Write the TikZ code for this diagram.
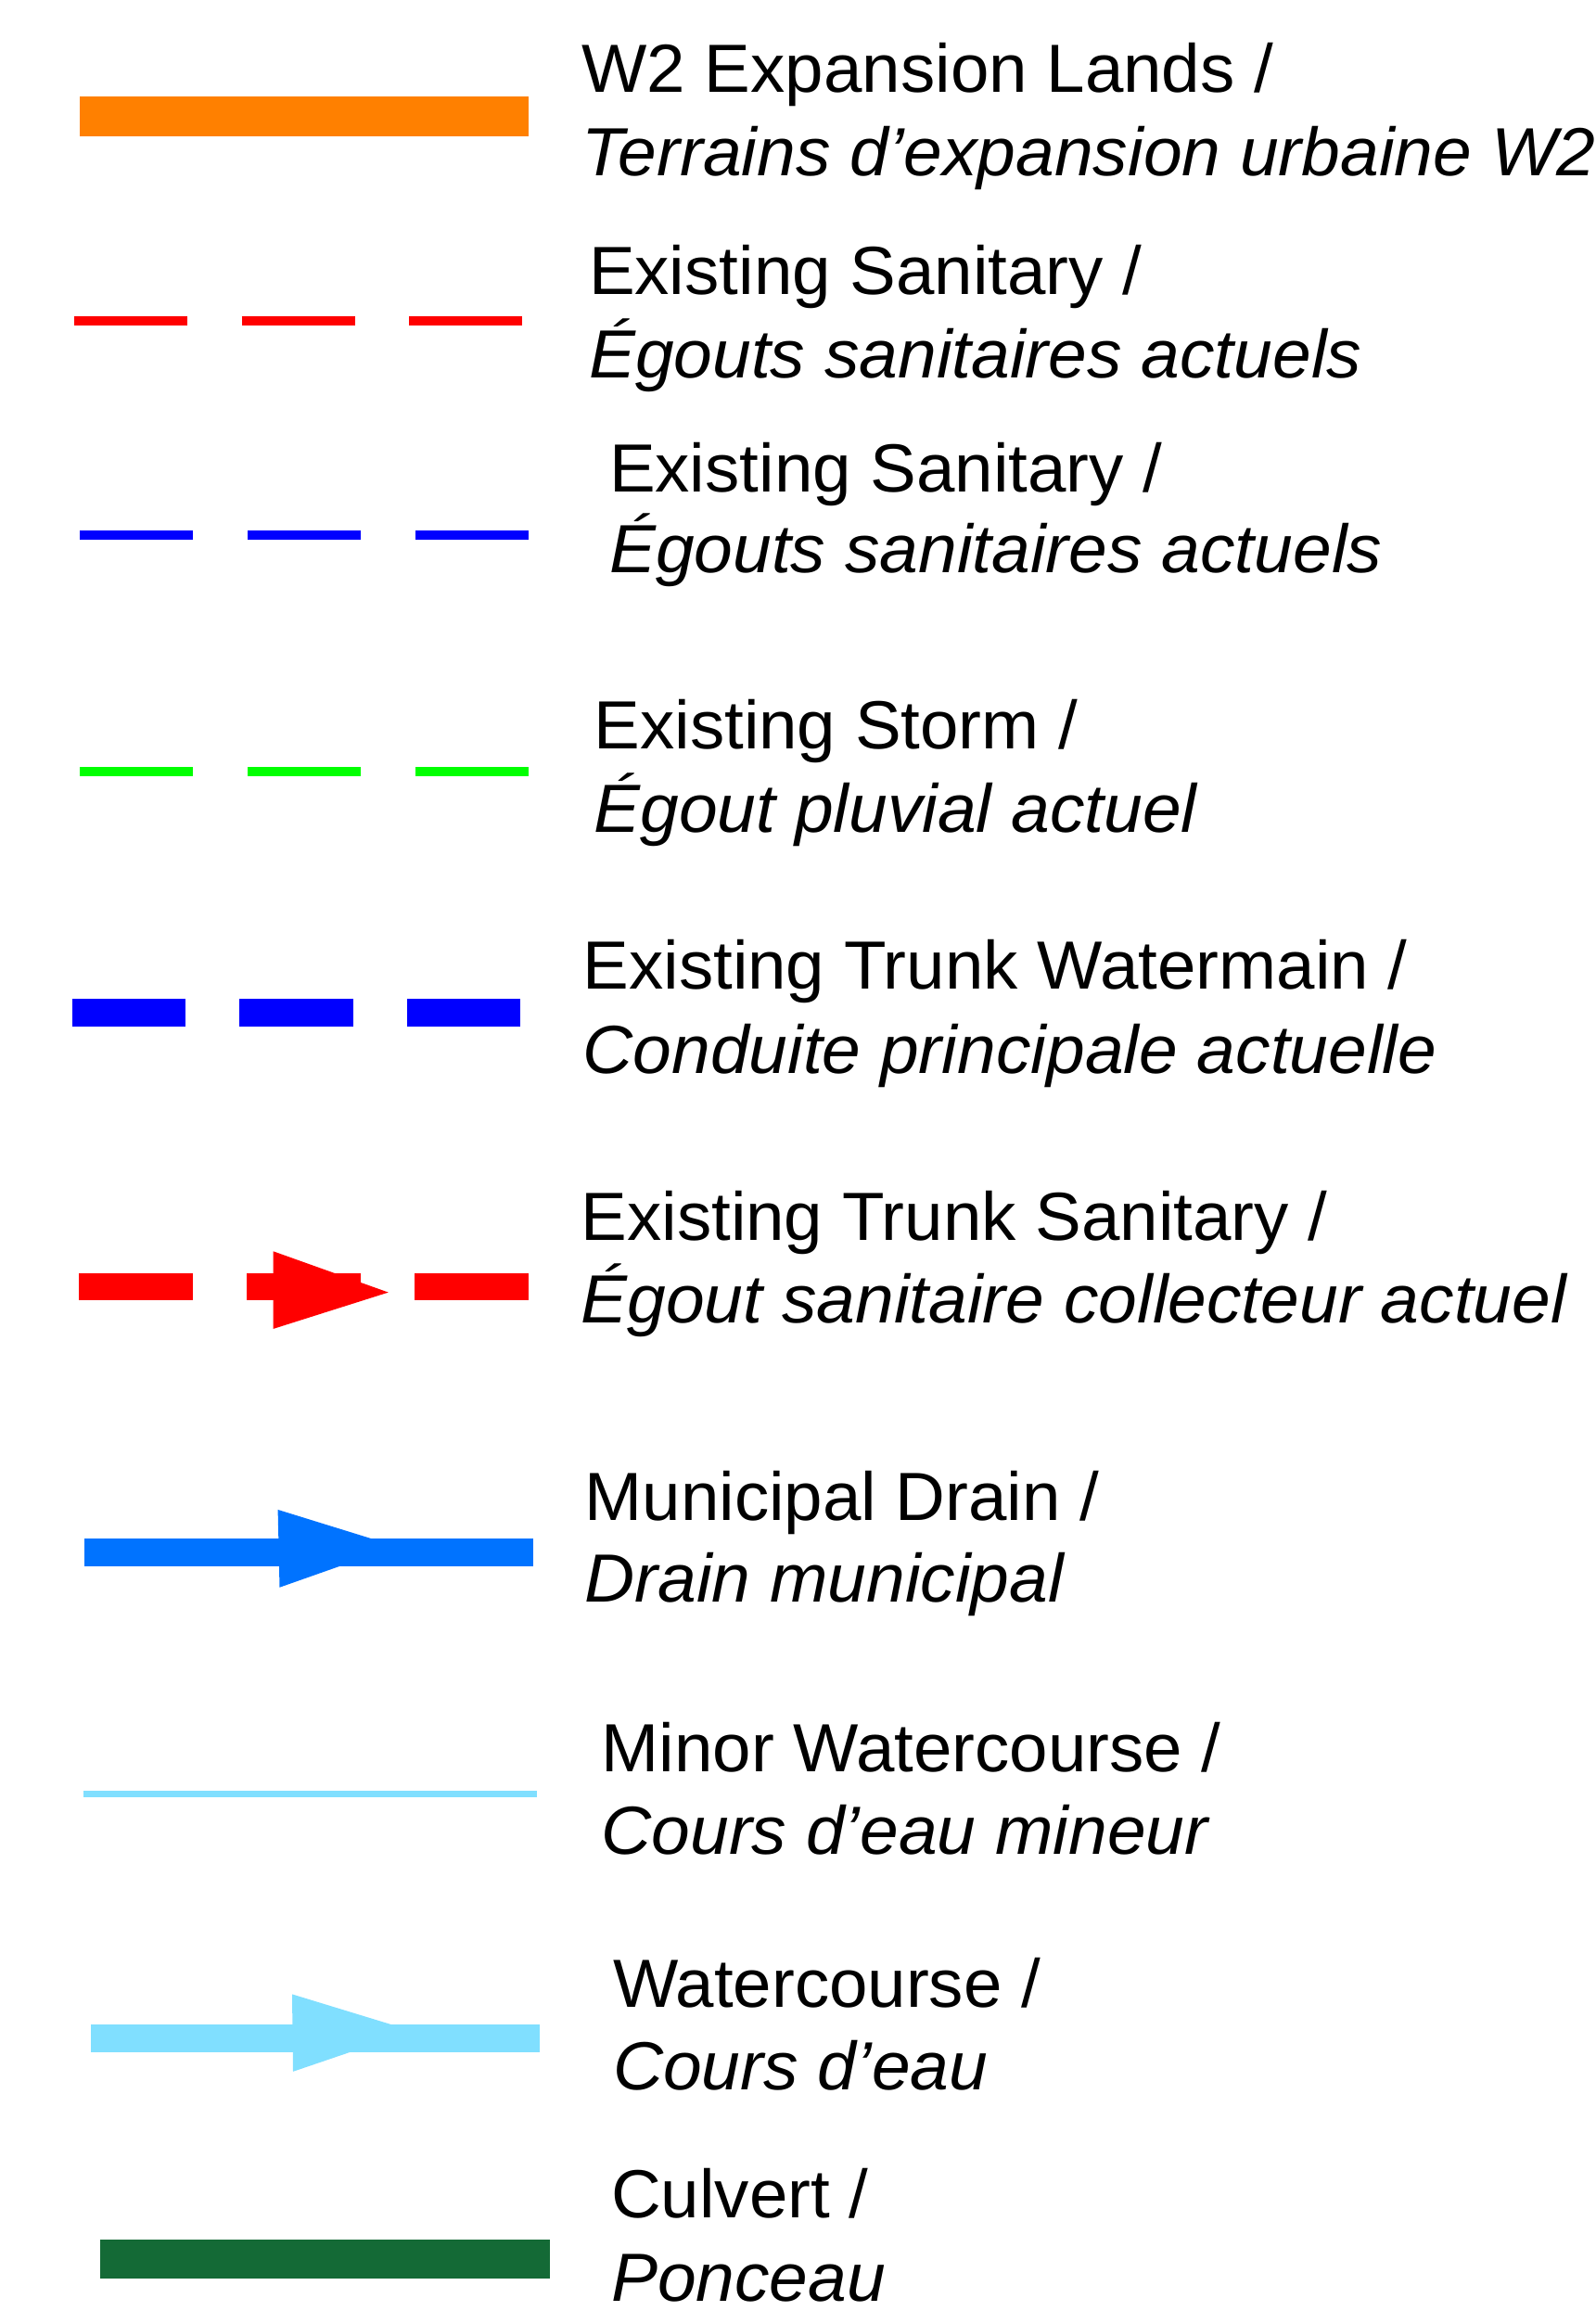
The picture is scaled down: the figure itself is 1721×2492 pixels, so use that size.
\documentclass[tikz,border=0pt]{standalone}
\usepackage{fontspec}
\setmainfont{Liberation Sans}[FakeStretch=1.014, ItalicFeatures={FakeStretch=1.02}]

\definecolor{expansionorange}{HTML}{FF8000}
\definecolor{sanitaryred}{HTML}{FF0000}
\definecolor{sanitaryblue}{HTML}{0000FF}
\definecolor{stormgreen}{HTML}{00FF00}
\definecolor{drainblue}{HTML}{0073FF}
\definecolor{waterblue}{HTML}{80DFFF}
\definecolor{culvertgreen}{HTML}{146A36}

\begin{document}
\begin{tikzpicture}[x=1pt, y=-1pt,
  legendtext/.style={anchor=base west, inner sep=0pt, outer sep=0pt,
    font=\fontsize{73.5}{90}\selectfont},
  legendtextit/.style={legendtext, font=\fontsize{73.5}{90}\selectfont\itshape},
  thindash/.style={line width=10pt, dash pattern=on 122pt off 58.7pt},
  trunkdash/.style={dash pattern=on 122.5pt off 58.3pt},
]
\useasboundingbox (0,0) rectangle (1721,2492);
\fill[white] (0,0) rectangle (1721,2492);

% --- line samples -------------------------------------------------------
% W2 expansion lands
\fill[expansionorange] (86,104) rectangle (570,147);

% existing sanitary (red, thin dashes)
\draw[sanitaryred, thindash] (80,345.7) -- (564.5,345.7);

% existing sanitary (blue, thin dashes)
\draw[sanitaryblue, thindash] (86.4,576.5) -- (569.8,576.5);

% existing storm (green, thin dashes)
\draw[stormgreen, thindash] (86.4,832) -- (569.8,832);

% existing trunk watermain (blue, heavy dashes)
\draw[sanitaryblue, line width=30pt, trunkdash] (77.6,1092) -- (560.8,1092);

% existing trunk sanitary (red, heavy dashes with flow arrow)
\draw[sanitaryred, line width=29pt, dash pattern=on 123pt off 58pt] (85.3,1387.5) -- (571,1387.5);
\fill[sanitaryred] (294.7,1349.3) -- (418.8,1393.6) -- (294.7,1432.9) -- cycle;

% municipal drain
\fill[drainblue] (91,1659.4) rectangle (575,1688.9);
\fill[drainblue] (299.6,1627.9) -- (427.2,1667.4) -- (301.5,1711.7) -- cycle;

% minor watercourse
\fill[waterblue] (90,1931) rectangle (579,1937.6);

% watercourse
\fill[waterblue] (98,2183.4) rectangle (582,2213);
\fill[waterblue] (315,2150.4) -- (444.6,2190) -- (316,2233.8) -- cycle;

% culvert
\fill[culvertgreen] (108,2414.6) rectangle (593,2456.7);

% --- labels -------------------------------------------------------------
\node[legendtext]   (t1a)  at (627.5,99.3)   {W2 Expansion Lands /};
\node[legendtextit] (t1b)  at (627.5,189.3)  {Terrains d’expansion urbaine W2};

\node[legendtext]   (t2a)  at (635,317.7)    {Existing Sanitary /};
\node[legendtextit] (t2b)  at (635,407.3)    {Égouts sanitaires actuels};

\node[legendtext]   (t3a)  at (657,530.7)    {Existing Sanitary /};
\node[legendtextit] (t3b)  at (657,617.5)    {Égouts sanitaires actuels};

\node[legendtext]   (t4a)  at (640.5,807.7)  {Existing Storm /};
\node[legendtextit] (t4b)  at (640.5,897.7)  {Égout pluvial actuel};

\node[legendtext]   (t5a)  at (628.5,1066.7) {Existing Trunk Watermain /};
\node[legendtextit] (t5b)  at (628.5,1157.7) {Conduite principale actuelle};

\node[legendtext]   (t6a)  at (626.5,1337.3) {Existing Trunk Sanitary /};
\node[legendtextit] (t6b)  at (626.5,1426.7) {Égout sanitaire collecteur actuel};

\node[legendtext]   (t7a)  at (630.5,1639)   {Municipal Drain /};
\node[legendtextit] (t7b)  at (630.5,1727.3) {Drain municipal};

\node[legendtext]   (t8a)  at (648.5,1910.3) {Minor Watercourse /};
\node[legendtextit] (t8b)  at (648.5,1999.5) {Cours d’eau mineur};

\node[legendtext]   (t9a)  at (661,2164)     {Watercourse /};
\node[legendtextit] (t9b)  at (661,2253)     {Cours d’eau};

\node[legendtext]   (t10a) at (659,2391.3)   {Culvert /};
\node[legendtextit] (t10b) at (659,2481.8)   {Ponceau};
\end{tikzpicture}
\end{document}
